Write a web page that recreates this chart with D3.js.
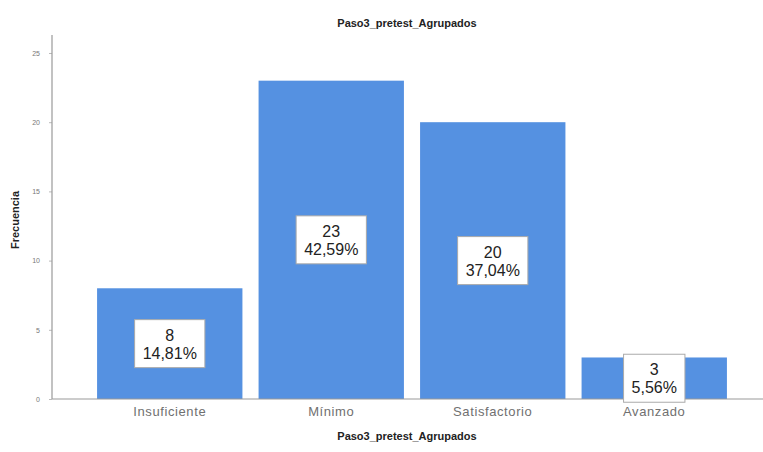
<!DOCTYPE html>
<html>
<head>
<meta charset="utf-8">
<script src="https://cdn.jsdelivr.net/npm/d3@7/dist/d3.min.js"></script>
<style>
  html, body { margin: 0; padding: 0; background: #fff; }
  svg { display: block; font-family: Arial, "Liberation Sans", sans-serif; }
</style>
</head>
<body>
<svg id="chart" width="763" height="452"></svg>
<script>
// Frequency table for Paso3_pretest_Agrupados
const categories = ["Insuficiente", "Mínimo", "Satisfactorio", "Avanzado"];
const frequencies = [8, 23, 20, 3];
const percentLabels = ["14,81%", "42,59%", "37,04%", "5,56%"];
const yTicks = [0, 5, 10, 15, 20, 25];

const svg = d3.select("#chart");

const x = d3.scaleBand()
  .domain(categories)
  .range([89, 735])
  .paddingInner(0.1)
  .paddingOuter(0.05);

const y = d3.scaleLinear()
  .domain([0, 26.3])
  .range([399, 35]);

// Axes
const yAxis = svg.append("g")
  .attr("transform", "translate(52,0)")
  .call(d3.axisLeft(y).tickValues(yTicks).tickSize(3).tickPadding(9));
yAxis.select(".domain").remove();
yAxis.selectAll(".tick line").attr("stroke", "#bbb");
yAxis.selectAll(".tick text")
  .attr("fill", "#777")
  .style("font-size", "7px");

svg.append("line")
  .attr("x1", 52).attr("x2", 52)
  .attr("y1", y.range()[1]).attr("y2", y(0))
  .attr("stroke", "#999").attr("stroke-width", 1.2);

// Bars
svg.append("g").selectAll("rect")
  .data(categories)
  .join("rect")
  .attr("x", d => x(d))
  .attr("y", (d, i) => y(frequencies[i]))
  .attr("width", x.bandwidth())
  .attr("height", (d, i) => y(0) - y(frequencies[i]))
  .attr("fill", "#5591e1");

svg.append("line")
  .attr("x1", 52).attr("x2", 763)
  .attr("y1", y(0)).attr("y2", y(0))
  .attr("stroke", "#999").attr("stroke-width", 1.2);

// Category labels
const xAxis = svg.append("g")
  .attr("transform", `translate(0,${y(0)})`)
  .call(d3.axisBottom(x).tickSize(0).tickPadding(8));
xAxis.select(".domain").remove();
xAxis.selectAll(".tick text")
  .attr("fill", "#707070")
  .style("font-size", "13px")
  .style("letter-spacing", "0.6px");

// Value labels: count and percentage in a white box at mid-bar
const labels = svg.append("g").selectAll("g")
  .data(categories)
  .join("g")
  .attr("transform", (d, i) =>
    `translate(${x(d) + x.bandwidth() / 2},${(y(0) + y(frequencies[i])) / 2})`);

labels.each(function(d, i) {
  const g = d3.select(this);
  const box = g.append("rect").attr("fill", "#fff").attr("stroke", "#aaa").attr("stroke-width", 1);
  const t = g.append("text")
    .attr("text-anchor", "middle")
    .attr("fill", "#222")
    .style("font-size", "16px");
  t.append("tspan").attr("x", 0).attr("y", -3).text(frequencies[i]);
  t.append("tspan").attr("x", 0).attr("y", 15).text(percentLabels[i]);
  const w = d3.max(t.selectAll("tspan").nodes(), n => n.getComputedTextLength());
  box.attr("x", -w / 2 - 8).attr("y", -24).attr("width", w + 16).attr("height", 48);
});

// Titles
svg.append("text")
  .attr("x", 407).attr("y", 27)
  .attr("text-anchor", "middle")
  .attr("fill", "#222")
  .style("font-size", "11px").style("font-weight", "bold")
  .text("Paso3_pretest_Agrupados");

svg.append("text")
  .attr("x", 407).attr("y", 440)
  .attr("text-anchor", "middle")
  .attr("fill", "#222")
  .style("font-size", "11px").style("font-weight", "bold")
  .text("Paso3_pretest_Agrupados");

svg.append("text")
  .attr("transform", "translate(19,220) rotate(-90)")
  .attr("text-anchor", "middle")
  .attr("fill", "#222")
  .style("font-size", "11px").style("font-weight", "bold")
  .text("Frecuencia");
</script>
</body>
</html>
